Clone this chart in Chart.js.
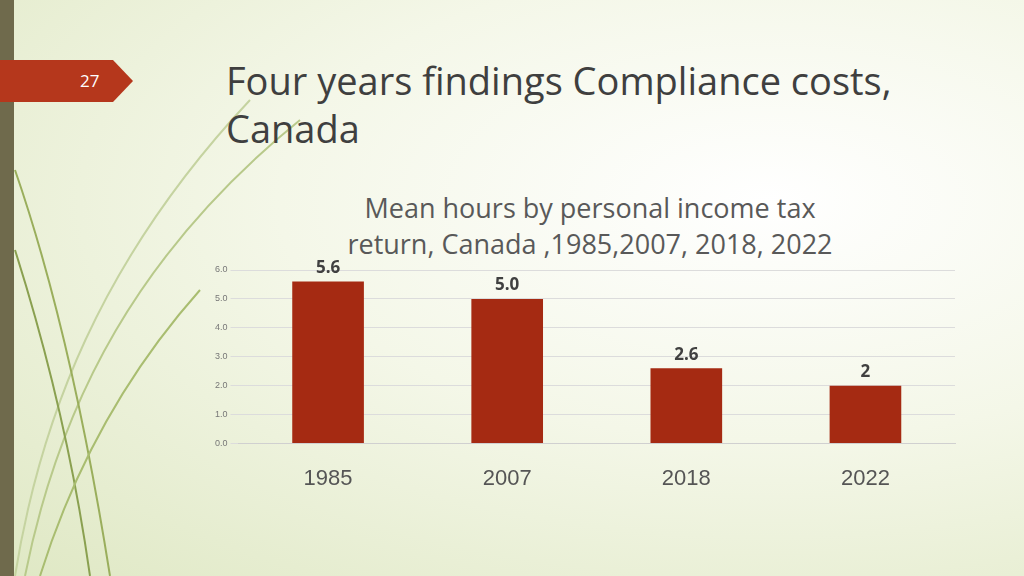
<!DOCTYPE html>
<html><head><meta charset="utf-8">
<script src="https://cdn.jsdelivr.net/npm/chart.js@4"></script>
<style>
html,body{margin:0;padding:0;width:1024px;height:576px;overflow:hidden;font-family:"Open Sans",Lato,sans-serif;}
#bg{position:absolute;left:0;top:0;width:1024px;height:576px;background:radial-gradient(ellipse at 75% 35%,#ffffff 0%,#f4f7e8 45%,#dfe8c4 100%);}
#side{position:absolute;left:0;top:0;width:14px;height:576px;background:#6f6a4c;}
#tab{position:absolute;left:0;top:60px;width:133px;height:42px;background:#b5371c;clip-path:polygon(0 0,113px 0,133px 21px,113px 42px,0 42px);color:#fff;font-size:17px;line-height:42px;}
#tab span{position:absolute;left:80px;}
#title{position:absolute;left:226px;top:56px;font-size:38px;line-height:48px;color:#3f3f3f;}
#ctitle{position:absolute;left:290px;width:600px;top:190px;text-align:center;font-size:27px;line-height:36px;color:#595959;}
canvas{position:absolute;left:0;top:0;}
svg{position:absolute;left:0;top:0;}
</style></head><body>
<div id="bg"></div>
<svg width="1024" height="576">
<path d="M15 576 C40 420 100 260 250 100" stroke="#c5d3a0" stroke-width="2" fill="none"/>
<path d="M25 576 C60 400 140 250 300 120" stroke="#b8c98a" stroke-width="2" fill="none"/>
<path d="M15 170 C60 300 90 450 110 576" stroke="#9aae5c" stroke-width="2" fill="none"/>
<path d="M15 250 C50 360 75 470 90 576" stroke="#8aa050" stroke-width="2" fill="none"/>
<path d="M40 576 C70 480 120 380 200 290" stroke="#a9bd70" stroke-width="2" fill="none"/>
</svg>
<div id="side"></div>
<div id="tab"><span>27</span></div>
<div id="title">Four years findings Compliance costs,<br>Canada</div>
<div id="ctitle">Mean hours by personal income tax<br>return, Canada ,1985,2007, 2018, 2022</div>
<canvas id="c" width="1024" height="576"></canvas>
<script>
const categories=['1985','2007','2018','2022'];
const values=[5.6,5.0,2.6,2.0];
const valueLabels=['5.6','5.0','2.6','2'];
const labelPlugin={id:'vl',afterDatasetsDraw(ch){const ctx=ch.ctx;const m=ch.getDatasetMeta(0);ctx.save();ctx.font='bold 17px "Open Sans",sans-serif';ctx.fillStyle='#404040';ctx.textAlign='center';ctx.textBaseline='bottom';m.data.forEach((b,i)=>{ctx.fillText(valueLabels[i],b.x,b.y-5);});ctx.restore();}};
new Chart(document.getElementById('c'),{type:'bar',
data:{labels:categories,datasets:[{data:values,backgroundColor:'#a52a12',barPercentage:0.8,categoryPercentage:0.5}]},
options:{responsive:false,animation:false,
layout:{padding:{left:212,right:69,top:270,bottom:70}},
plugins:{legend:{display:false},tooltip:{enabled:false}},
scales:{y:{min:0,max:6,ticks:{stepSize:1,callback:v=>v.toFixed(1),font:{size:9},color:'#777'},grid:{color:'#dcdcdc'},border:{display:false}},
x:{grid:{display:false},border:{color:'#d0d0d0'},ticks:{font:{size:22},color:'#555',padding:14}}}},
plugins:[labelPlugin]});
</script>
</body></html>
